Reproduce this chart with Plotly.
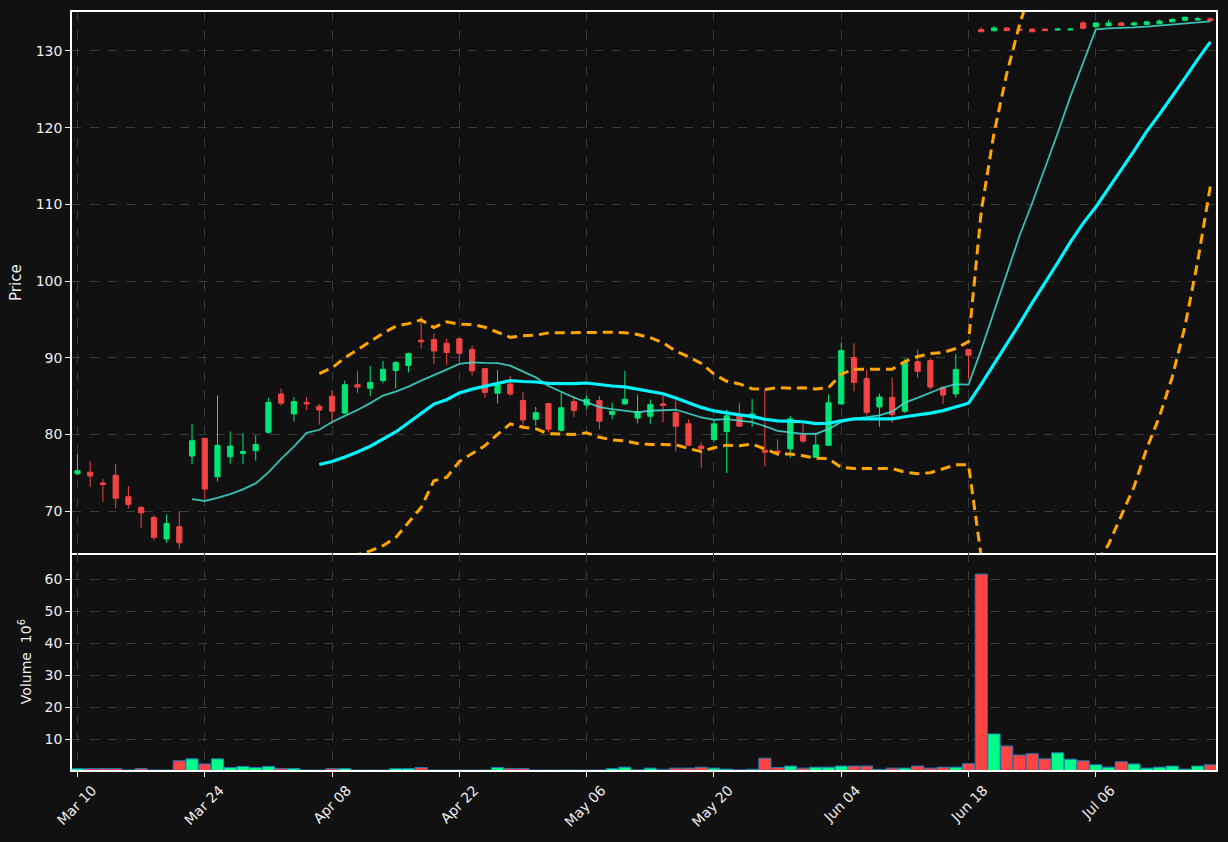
import plotly.graph_objects as go
from plotly.subplots import make_subplots
import pandas as pd

# ---- data (trading-day index 0..89) ----
opens = [74.9, 75.1, 73.7, 74.7, 71.9, 70.5, 69.2, 66.4, 68.0, 77.2,
         79.5, 74.5, 77.1, 77.55, 77.9, 80.3, 85.3, 82.7, 84.2, 83.7,
         85.0, 82.8, 86.5, 86.05, 87.05, 88.35, 89.0, 92.3, 92.4, 91.9,
         92.5, 91.1, 88.6, 85.4, 86.6, 84.45, 82.0, 84.05, 80.55, 84.3,
         83.85, 84.45, 82.65, 84.0, 82.15, 82.4, 84.0, 82.85, 81.4, 78.5,
         79.35, 80.4, 82.4, 82.2, 77.95, 77.85, 78.15, 79.95, 77.05, 78.6,
         84.0, 90.05, 87.3, 83.6, 84.85, 83.05, 89.5, 89.65, 86.15, 85.3,
         91.1, 132.8, 132.65, 133.0, 132.85, 132.85, 132.85, 132.75, 132.75, 133.65,
         133.15, 133.3, 133.65, 133.4, 133.45, 133.55, 133.8, 134.0, 134.05, 134.2]
highs = [77.5, 76.5, 74.2, 76.2, 73.3, 70.7, 69.5, 69.6, 70.0, 81.4,
         79.6, 85.1, 80.4, 80.2, 79.9, 84.8, 86.0, 84.9, 84.9, 84.0,
         85.75, 87.05, 88.3, 88.95, 89.6, 89.6, 90.7, 95.4, 93.2, 92.5,
         92.6, 91.6, 88.7, 88.4, 87.65, 85.6, 83.6, 84.1, 85.45, 85.0,
         85.1, 85.0, 84.15, 88.3, 85.2, 84.55, 85.2, 84.45, 82.0, 79.0,
         81.85, 83.25, 84.15, 84.65, 85.9, 79.4, 82.45, 81.55, 80.1, 85.25,
         91.9, 91.9, 88.45, 85.35, 87.4, 89.9, 91.1, 89.95, 86.2, 90.5,
         91.15, 133.1, 133.25, 133.1, 132.9, 133.0, 132.95, 133.0, 133.0, 133.9,
         133.75, 134.05, 133.85, 133.85, 133.9, 134.1, 134.3, 134.45, 134.45, 134.35]
lows = [74.7, 73.2, 71.2, 70.4, 70.4, 67.8, 66.2, 65.9, 65.1, 76.1,
        71.6, 73.9, 76.2, 76.2, 76.6, 80.1, 83.75, 81.7, 83.2, 81.3,
        81.4, 82.7, 85.45, 85.0, 86.7, 86.05, 88.1, 91.2, 89.2, 89.1,
        89.4, 87.7, 84.8, 84.05, 85.05, 80.7, 81.1, 80.3, 80.4, 82.3,
        83.3, 80.7, 82.0, 83.9, 81.45, 81.4, 81.6, 77.8, 78.5, 75.7,
        79.0, 75.0, 81.0, 81.0, 75.85, 77.2, 77.0, 78.9, 77.0, 78.5,
        83.9, 85.65, 82.5, 81.0, 81.55, 82.8, 87.4, 85.9, 84.0, 84.8,
        87.3, 132.45, 132.5, 132.6, 132.65, 132.45, 132.6, 132.6, 132.65, 132.8,
        133.0, 133.2, 133.25, 133.3, 133.4, 133.5, 133.75, 133.95, 133.9, 133.9]
closes = [75.3, 74.6, 73.5, 71.7, 70.9, 69.8, 66.6, 68.4, 65.9, 79.2,
          72.9, 78.6, 78.5, 77.8, 78.7, 84.2, 84.1, 84.3, 84.0, 83.2,
          83.05, 86.5, 86.2, 86.8, 88.5, 89.4, 90.55, 92.1, 90.9, 90.7,
          90.6, 88.3, 85.5, 86.5, 85.3, 81.9, 82.85, 80.7, 83.5, 83.15,
          84.6, 81.75, 83.0, 84.6, 83.0, 83.9, 83.8, 81.1, 78.6, 78.2,
          81.4, 82.45, 81.1, 82.7, 77.7, 77.7, 82.05, 79.15, 78.65, 84.15,
          90.95, 86.8, 82.9, 84.9, 82.6, 89.5, 88.25, 86.2, 85.15, 88.5,
          90.35, 132.5, 133.0, 132.65, 132.7, 132.5, 132.65, 132.85, 132.85, 132.95,
          133.65, 133.65, 133.3, 133.65, 133.8, 133.9, 134.1, 134.4, 134.2, 133.95]
volumes = [0.8, 0.8, 0.8, 0.8, 0.3, 0.8, 0.3, 0.3, 3.2, 3.8,
           2.2, 3.8, 1.1, 1.45, 1.1, 1.45, 0.8, 0.8, 0.3, 0.3,
           0.8, 0.8, 0.3, 0.3, 0.3, 0.8, 0.8, 1.1, 0.3, 0.3,
           0.3, 0.3, 0.3, 1.1, 0.8, 0.8, 0.3, 0.3, 0.3, 0.3,
           0.3, 0.3, 0.8, 1.2, 0.35, 0.9, 0.5, 0.9, 0.9, 1.2,
           0.9, 0.6, 0.35, 0.55, 4.0, 1.1, 1.55, 0.9, 1.2, 1.2,
           1.55, 1.55, 1.55, 0.5, 0.9, 0.9, 1.55, 0.9, 1.2, 1.2,
           2.3, 61.6, 11.6, 7.8, 5.0, 5.4, 3.8, 5.7, 3.7, 3.2,
           1.95, 1.2, 2.9, 2.2, 0.9, 1.2, 1.55, 0.6, 1.55, 1.95]
tick_pos = [0, 10, 20, 30, 40, 50, 60, 70, 80]
tick_labels = ["Mar 10", "Mar 24", "Apr 08", "Apr 22", "May 06",
               "May 20", "Jun 04", "Jun 18", "Jul 06"]

UP = "#00E676"
DOWN = "#F24444"
VUP = "#00FF88"
VDOWN = "#FF4444"
BG = "#111111"
GRID = "#3a3a3a"
TXT = "#EEEEEE"

idx = list(range(len(closes)))
close_s = pd.Series(closes)
ma10 = close_s.rolling(10).mean()
ma20 = close_s.rolling(20).mean()
sd20 = close_s.rolling(20).std(ddof=0)
bb_up = ma20 + 2 * sd20
bb_lo = ma20 - 2 * sd20

vol_colors = [VUP if c >= o else VDOWN for o, c in zip(opens, closes)]

fig = make_subplots(rows=2, cols=1, shared_xaxes=True,
                    row_heights=[542 / 759, 217 / 759], vertical_spacing=0)

fig.add_trace(go.Candlestick(
    x=idx, open=opens, high=highs, low=lows, close=closes,
    increasing=dict(line=dict(color=UP, width=1), fillcolor=UP),
    decreasing=dict(line=dict(color=DOWN, width=1), fillcolor=DOWN),
    whiskerwidth=0, showlegend=False), row=1, col=1)

fig.add_trace(go.Scatter(x=idx, y=ma10, mode="lines",
                         line=dict(color="#40E0D0", width=1.8), opacity=0.85,
                         showlegend=False), row=1, col=1)
fig.add_trace(go.Scatter(x=idx, y=ma20, mode="lines",
                         line=dict(color="#00F5FF", width=3.2),
                         showlegend=False), row=1, col=1)
for band in (bb_up, bb_lo):
    fig.add_trace(go.Scatter(x=idx, y=band, mode="lines",
                             line=dict(color="#FFA500", width=3, dash="10px,6px"),
                             showlegend=False), row=1, col=1)

fig.add_trace(go.Bar(x=idx, y=volumes, marker=dict(color=vol_colors,
                     line=dict(color="#1F77B4", width=1)),
                     width=0.96, showlegend=False), row=2, col=1)

axis_common = dict(showline=True, linecolor="white", linewidth=1.5,
                   showgrid=True, gridcolor=GRID, griddash="dash", gridwidth=1,
                   zeroline=False, tickcolor="white", ticklen=5,
                   tickfont=dict(color=TXT, size=14, family="DejaVu Sans"))

fig.update_xaxes(range=[-0.43, 89.44], tickvals=tick_pos, ticktext=tick_labels,
                 **axis_common)
fig.update_xaxes(showticklabels=False, ticks="", mirror=True, row=1, col=1)
fig.update_xaxes(ticks="outside", tickangle=-45, mirror=False,
                 ticklabelshift=15, row=2, col=1)
fig.update_xaxes(rangeslider_visible=False)

fig.update_yaxes(ticks="outside", mirror=True, **axis_common)
fig.update_yaxes(range=[64.53, 135.08], tickvals=[70, 80, 90, 100, 110, 120, 130],
                 title=dict(text="Price", font=dict(color=TXT, size=15, family="DejaVu Sans"),
                            standoff=10),
                 row=1, col=1)
fig.update_yaxes(range=[0.31, 68.1], tickvals=[10, 20, 30, 40, 50, 60],
                 title=dict(text="Volume  10<sup>6</sup>",
                            font=dict(color=TXT, size=14, family="DejaVu Sans"),
                            standoff=10),
                 row=2, col=1)

fig.update_layout(width=1228, height=842, paper_bgcolor=BG, plot_bgcolor=BG,
                  margin=dict(l=72, r=10, t=11, b=72), boxgap=0.42,
                  font=dict(family="DejaVu Sans", color=TXT, size=14),
                  showlegend=False, hovermode="x")

fig.write_html("out.html", config={"displayModeBar": False},
               post_script="document.body.style.margin='0';"
                           "document.body.style.background='#111111';")
